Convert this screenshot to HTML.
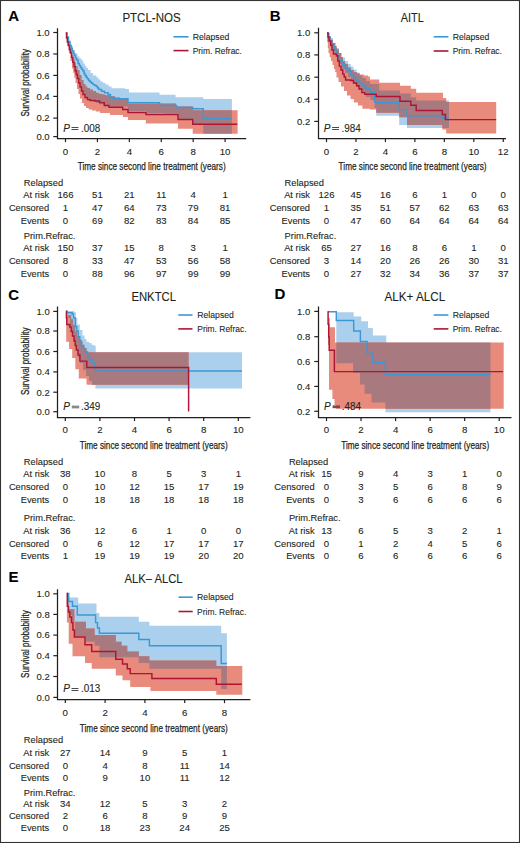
<!DOCTYPE html><html><head><meta charset="utf-8"><style>html,body{margin:0;padding:0;background:#fff;}body{width:520px;height:843px;overflow:hidden;}svg{display:block;}text{font-family:"Liberation Sans",sans-serif;stroke:#231f20;stroke-width:0.1px;}</style></head><body>
<svg width="520" height="843" viewBox="0 0 520 843">
<rect x="0" y="0" width="520" height="843" fill="#fff"/>
<g>
<clipPath id="clipA"><path d="M65.8 33 L67 33 L67 38 L68.2 38 L68.2 42 L69.5 42 L69.5 46.5 L70.8 46.5 L70.8 51 L72 51 L72 55 L73.3 55 L73.3 59 L74.5 59 L74.5 62.5 L75.8 62.5 L75.8 66 L77.5 66 L77.5 70 L79.5 70 L79.5 75 L81.5 75 L81.5 80 L83.5 80 L83.5 84 L85.5 84 L85.5 86.5 L87.3 86.5 L87.3 88 L90 88 L90 89.5 L93 89.5 L93 91 L96 91 L96 92.8 L98.8 92.8 L98.8 93.8 L102 93.8 L102 94.5 L105 94.5 L105 95.2 L110.4 95.2 L110.4 96.3 L115 96.3 L115 97.6 L120 97.6 L120 98.6 L128 98.6 L128 103.4 L176 103.4 L176 106.5 L192.7 106.5 L192.7 110.3 L237.6 110.3 L237.6 133.7 L192.7 133.7 L192.7 128.8 L178 128.8 L178 123.4 L145.8 123.4 L145.8 120 L128 120 L128 117 L123 117 L123 115 L110 115 L110 113 L100 113 L100 111.5 L96 111.5 L96 110.5 L92 110.5 L92 109.5 L88.7 109.5 L88.7 108 L86 108 L86 106 L84 106 L84 103 L82 103 L82 98.5 L80 98.5 L80 94 L78.5 94 L78.5 89 L77 89 L77 83 L75.5 83 L75.5 77.7 L74.3 77.7 L74.3 73 L73.2 73 L73.2 68.5 L72 68.5 L72 61 L70.5 61 L70.5 53.1 L68.9 53.1 L68.9 45 L67.4 45 L67.4 37.7 L66 37.7 L66 33 L65.8 33Z"/></clipPath>
<path d="M65.8 33 L67.5 33 L67.5 38 L69 38 L69 42 L71 42 L71 46 L73 46 L73 50 L75 50 L75 53.5 L77.5 53.5 L77.5 56.5 L79.5 56.5 L79.5 58.5 L81.5 58.5 L81.5 60.5 L83.2 60.5 L83.2 63.5 L85 63.5 L85 66 L86.5 66 L86.5 68 L88 68 L88 70 L90.5 70 L90.5 73 L93 73 L93 75.5 L96.5 75.5 L96.5 77.5 L98.5 77.5 L98.5 79.5 L100.5 79.5 L100.5 81.5 L103 81.5 L103 83 L105.5 83 L105.5 84.5 L108.5 84.5 L108.5 86.5 L111.5 86.5 L111.5 88.2 L125 88.2 L125 89 L129 89 L129 92.6 L159.5 92.6 L159.5 94.7 L175.5 94.7 L175.5 97.2 L203.3 97.2 L203.3 99.1 L231.9 99.1 L231.9 133.7 L203.3 133.7 L203.3 124 L192.7 124 L192.7 119.5 L178 119.5 L178 114.5 L165 114.5 L165 113.5 L146 113.5 L146 111.5 L128 111.5 L128 106.5 L110 106.5 L110 105.5 L104 105.5 L104 104.2 L99.2 104.2 L99.2 103 L96 103 L96 101.5 L92.6 101.5 L92.6 99.8 L89 99.8 L89 97.5 L86.1 97.5 L86.1 94.5 L84 94.5 L84 91 L82.2 91 L82.2 86.5 L80.2 86.5 L80.2 80.5 L78.3 80.5 L78.3 76.5 L77 76.5 L77 71.5 L75.7 71.5 L75.7 66.5 L74.3 66.5 L74.3 61 L73 61 L73 55.5 L71.3 55.5 L71.3 50.5 L69.8 50.5 L69.8 47 L68.7 47 L68.7 43 L67.6 43 L67.6 38 L66.6 38 L66.6 33 L65.8 33Z" fill="#abd0ee"/>
<path d="M65.8 33 L67 33 L67 38 L68.2 38 L68.2 42 L69.5 42 L69.5 46.5 L70.8 46.5 L70.8 51 L72 51 L72 55 L73.3 55 L73.3 59 L74.5 59 L74.5 62.5 L75.8 62.5 L75.8 66 L77.5 66 L77.5 70 L79.5 70 L79.5 75 L81.5 75 L81.5 80 L83.5 80 L83.5 84 L85.5 84 L85.5 86.5 L87.3 86.5 L87.3 88 L90 88 L90 89.5 L93 89.5 L93 91 L96 91 L96 92.8 L98.8 92.8 L98.8 93.8 L102 93.8 L102 94.5 L105 94.5 L105 95.2 L110.4 95.2 L110.4 96.3 L115 96.3 L115 97.6 L120 97.6 L120 98.6 L128 98.6 L128 103.4 L176 103.4 L176 106.5 L192.7 106.5 L192.7 110.3 L237.6 110.3 L237.6 133.7 L192.7 133.7 L192.7 128.8 L178 128.8 L178 123.4 L145.8 123.4 L145.8 120 L128 120 L128 117 L123 117 L123 115 L110 115 L110 113 L100 113 L100 111.5 L96 111.5 L96 110.5 L92 110.5 L92 109.5 L88.7 109.5 L88.7 108 L86 108 L86 106 L84 106 L84 103 L82 103 L82 98.5 L80 98.5 L80 94 L78.5 94 L78.5 89 L77 89 L77 83 L75.5 83 L75.5 77.7 L74.3 77.7 L74.3 73 L73.2 73 L73.2 68.5 L72 68.5 L72 61 L70.5 61 L70.5 53.1 L68.9 53.1 L68.9 45 L67.4 45 L67.4 37.7 L66 37.7 L66 33 L65.8 33Z" fill="#e88a7c"/>
<path d="M65.8 33 L67.5 33 L67.5 38 L69 38 L69 42 L71 42 L71 46 L73 46 L73 50 L75 50 L75 53.5 L77.5 53.5 L77.5 56.5 L79.5 56.5 L79.5 58.5 L81.5 58.5 L81.5 60.5 L83.2 60.5 L83.2 63.5 L85 63.5 L85 66 L86.5 66 L86.5 68 L88 68 L88 70 L90.5 70 L90.5 73 L93 73 L93 75.5 L96.5 75.5 L96.5 77.5 L98.5 77.5 L98.5 79.5 L100.5 79.5 L100.5 81.5 L103 81.5 L103 83 L105.5 83 L105.5 84.5 L108.5 84.5 L108.5 86.5 L111.5 86.5 L111.5 88.2 L125 88.2 L125 89 L129 89 L129 92.6 L159.5 92.6 L159.5 94.7 L175.5 94.7 L175.5 97.2 L203.3 97.2 L203.3 99.1 L231.9 99.1 L231.9 133.7 L203.3 133.7 L203.3 124 L192.7 124 L192.7 119.5 L178 119.5 L178 114.5 L165 114.5 L165 113.5 L146 113.5 L146 111.5 L128 111.5 L128 106.5 L110 106.5 L110 105.5 L104 105.5 L104 104.2 L99.2 104.2 L99.2 103 L96 103 L96 101.5 L92.6 101.5 L92.6 99.8 L89 99.8 L89 97.5 L86.1 97.5 L86.1 94.5 L84 94.5 L84 91 L82.2 91 L82.2 86.5 L80.2 86.5 L80.2 80.5 L78.3 80.5 L78.3 76.5 L77 76.5 L77 71.5 L75.7 71.5 L75.7 66.5 L74.3 66.5 L74.3 61 L73 61 L73 55.5 L71.3 55.5 L71.3 50.5 L69.8 50.5 L69.8 47 L68.7 47 L68.7 43 L67.6 43 L67.6 38 L66.6 38 L66.6 33 L65.8 33Z" fill="#a87a80" clip-path="url(#clipA)"/>
<path d="M65.8 33H67V37H68.5V41.5H70V45.5H71.2V48.5H72.3V51H73.4V53.5H74.5V55.5H75.5V58H76.5V60H78.1V63.5H79.3V65.5H80.5V67.5H81.6V69H82.7V70.8H84V73.5H85V75.5H86.2V77.3H87.3V78.8H88.6V80.5H90V82H91.5V83.3H93.1V84.6H94.8V85.5H96.5V86.6H97.6V88H98.8V89.4H101.5V91.3H104.4V92.7H108V94.5H110.5V97.5H112.5V98.8H128V102.6H159.5V105.5H176.5V107.4H192.7V108.8H203.3V118.8H231.9" fill="none" stroke="#3b98d4" stroke-width="1.45"/>
<path d="M65.8 33H66.5V38H67.3V42H68.2V45.4H69.3V49.5H70.5V53.1H71.6V57.5H72.8V62.3H74V66.5H75.1V70.8H76.2V74.5H77.4V78.5H78.7V83H80V87H81.5V91H83V94.5H85V97.5H87.5V99.5H90V100.5H95V101H99.6V102.6H104.2V105.4H109V107.2H122.7V109.5H128V112.6H146V114.6H178V119.5H192.7V124.2H237.3" fill="none" stroke="#ad1535" stroke-width="1.45"/>
<path d="M57.5 28.2V138.5H246.2" fill="none" stroke="#231f20" stroke-width="1.25"/>
<path d="M53.3 32.5H57.5" stroke="#231f20" stroke-width="1.2"/>
<text x="49.6" y="35.8" font-size="9.5" text-anchor="end" fill="#231f20">1.0</text>
<path d="M53.3 54H57.5" stroke="#231f20" stroke-width="1.2"/>
<text x="49.6" y="57.3" font-size="9.5" text-anchor="end" fill="#231f20">0.8</text>
<path d="M53.3 75.4H57.5" stroke="#231f20" stroke-width="1.2"/>
<text x="49.6" y="78.7" font-size="9.5" text-anchor="end" fill="#231f20">0.6</text>
<path d="M53.3 96.4H57.5" stroke="#231f20" stroke-width="1.2"/>
<text x="49.6" y="99.7" font-size="9.5" text-anchor="end" fill="#231f20">0.4</text>
<path d="M53.3 118.1H57.5" stroke="#231f20" stroke-width="1.2"/>
<text x="49.6" y="121.4" font-size="9.5" text-anchor="end" fill="#231f20">0.2</text>
<path d="M53.3 136.6H57.5" stroke="#231f20" stroke-width="1.2"/>
<text x="49.6" y="139.9" font-size="9.5" text-anchor="end" fill="#231f20">0.0</text>
<path d="M65.5 138.5V142.1" stroke="#231f20" stroke-width="1.2"/>
<text x="65.5" y="154.6" font-size="9.7" text-anchor="middle" fill="#231f20">0</text>
<path d="M97.42 138.5V142.1" stroke="#231f20" stroke-width="1.2"/>
<text x="97.42" y="154.6" font-size="9.7" text-anchor="middle" fill="#231f20">2</text>
<path d="M129.34 138.5V142.1" stroke="#231f20" stroke-width="1.2"/>
<text x="129.34" y="154.6" font-size="9.7" text-anchor="middle" fill="#231f20">4</text>
<path d="M161.26 138.5V142.1" stroke="#231f20" stroke-width="1.2"/>
<text x="161.26" y="154.6" font-size="9.7" text-anchor="middle" fill="#231f20">6</text>
<path d="M193.18 138.5V142.1" stroke="#231f20" stroke-width="1.2"/>
<text x="193.18" y="154.6" font-size="9.7" text-anchor="middle" fill="#231f20">8</text>
<path d="M225.1 138.5V142.1" stroke="#231f20" stroke-width="1.2"/>
<text x="225.1" y="154.6" font-size="9.7" text-anchor="middle" fill="#231f20">10</text>
<text x="151.7" y="170.4" font-size="11.2" text-anchor="middle" textLength="148" lengthAdjust="spacingAndGlyphs" style="stroke-width:0.25px" fill="#231f20">Time since second line treatment (years)</text>
<text transform="translate(28.6 82.8) rotate(-90)" font-size="10.8" text-anchor="middle" textLength="67.6" lengthAdjust="spacingAndGlyphs" style="stroke-width:0.25px" fill="#231f20">Survival probability</text>
<text x="8.3" y="20.8" font-size="15" font-weight="bold" fill="#000">A</text>
<text x="151.5" y="21.8" font-size="12" text-anchor="middle" textLength="58.2" lengthAdjust="spacingAndGlyphs" fill="#231f20">PTCL-NOS</text>
<path d="M173.5 36.8H188.5" stroke="#3b98d4" stroke-width="1.6"/>
<path d="M173.5 50.6H188.5" stroke="#ad1535" stroke-width="1.6"/>
<text x="192.7" y="39.9" font-size="9.7" textLength="36.6" lengthAdjust="spacingAndGlyphs" fill="#231f20">Relapsed</text>
<text x="192.7" y="53.7" font-size="9.7" textLength="49.2" lengthAdjust="spacingAndGlyphs" fill="#231f20">Prim. Refrac.</text>
<text x="63.2" y="131.6" font-size="10" font-style="italic" fill="#231f20">P</text>
<path d="M71.5 127.5H78.4M71.5 129.5H78.4" stroke="#4a4a4a" stroke-width="1"/>
<text x="80.9" y="131.6" font-size="10.1" textLength="19.3" lengthAdjust="spacingAndGlyphs" fill="#231f20">.008</text>
<g font-size="9.3" fill="#231f20">
<text x="23.8" y="186.1" font-size="9.3" fill="#231f20">Relapsed</text>
<text x="23.8" y="238.8" font-size="9.3" fill="#231f20">Prim.Refrac.</text>
<text x="49.2" y="198.4" font-size="9.3" text-anchor="end" fill="#231f20">At risk</text>
<text x="65.5" y="198.4" font-size="9.6" text-anchor="middle" fill="#231f20">166</text>
<text x="97.42" y="198.4" font-size="9.6" text-anchor="middle" fill="#231f20">51</text>
<text x="129.34" y="198.4" font-size="9.6" text-anchor="middle" fill="#231f20">21</text>
<text x="161.26" y="198.4" font-size="9.6" text-anchor="middle" fill="#231f20">11</text>
<text x="193.18" y="198.4" font-size="9.6" text-anchor="middle" fill="#231f20">4</text>
<text x="225.1" y="198.4" font-size="9.6" text-anchor="middle" fill="#231f20">1</text>
<text x="49.2" y="211.2" font-size="9.3" text-anchor="end" fill="#231f20">Censored</text>
<text x="65.5" y="211.2" font-size="9.6" text-anchor="middle" fill="#231f20">1</text>
<text x="97.42" y="211.2" font-size="9.6" text-anchor="middle" fill="#231f20">47</text>
<text x="129.34" y="211.2" font-size="9.6" text-anchor="middle" fill="#231f20">64</text>
<text x="161.26" y="211.2" font-size="9.6" text-anchor="middle" fill="#231f20">73</text>
<text x="193.18" y="211.2" font-size="9.6" text-anchor="middle" fill="#231f20">79</text>
<text x="225.1" y="211.2" font-size="9.6" text-anchor="middle" fill="#231f20">81</text>
<text x="49.2" y="223.9" font-size="9.3" text-anchor="end" fill="#231f20">Events</text>
<text x="65.5" y="223.9" font-size="9.6" text-anchor="middle" fill="#231f20">0</text>
<text x="97.42" y="223.9" font-size="9.6" text-anchor="middle" fill="#231f20">69</text>
<text x="129.34" y="223.9" font-size="9.6" text-anchor="middle" fill="#231f20">82</text>
<text x="161.26" y="223.9" font-size="9.6" text-anchor="middle" fill="#231f20">83</text>
<text x="193.18" y="223.9" font-size="9.6" text-anchor="middle" fill="#231f20">84</text>
<text x="225.1" y="223.9" font-size="9.6" text-anchor="middle" fill="#231f20">85</text>
<text x="49.2" y="251.2" font-size="9.3" text-anchor="end" fill="#231f20">At risk</text>
<text x="65.5" y="251.2" font-size="9.6" text-anchor="middle" fill="#231f20">150</text>
<text x="97.42" y="251.2" font-size="9.6" text-anchor="middle" fill="#231f20">37</text>
<text x="129.34" y="251.2" font-size="9.6" text-anchor="middle" fill="#231f20">15</text>
<text x="161.26" y="251.2" font-size="9.6" text-anchor="middle" fill="#231f20">8</text>
<text x="193.18" y="251.2" font-size="9.6" text-anchor="middle" fill="#231f20">3</text>
<text x="225.1" y="251.2" font-size="9.6" text-anchor="middle" fill="#231f20">1</text>
<text x="49.2" y="263.8" font-size="9.3" text-anchor="end" fill="#231f20">Censored</text>
<text x="65.5" y="263.8" font-size="9.6" text-anchor="middle" fill="#231f20">8</text>
<text x="97.42" y="263.8" font-size="9.6" text-anchor="middle" fill="#231f20">33</text>
<text x="129.34" y="263.8" font-size="9.6" text-anchor="middle" fill="#231f20">47</text>
<text x="161.26" y="263.8" font-size="9.6" text-anchor="middle" fill="#231f20">53</text>
<text x="193.18" y="263.8" font-size="9.6" text-anchor="middle" fill="#231f20">56</text>
<text x="225.1" y="263.8" font-size="9.6" text-anchor="middle" fill="#231f20">58</text>
<text x="49.2" y="276.5" font-size="9.3" text-anchor="end" fill="#231f20">Events</text>
<text x="65.5" y="276.5" font-size="9.6" text-anchor="middle" fill="#231f20">0</text>
<text x="97.42" y="276.5" font-size="9.6" text-anchor="middle" fill="#231f20">88</text>
<text x="129.34" y="276.5" font-size="9.6" text-anchor="middle" fill="#231f20">96</text>
<text x="161.26" y="276.5" font-size="9.6" text-anchor="middle" fill="#231f20">97</text>
<text x="193.18" y="276.5" font-size="9.6" text-anchor="middle" fill="#231f20">99</text>
<text x="225.1" y="276.5" font-size="9.6" text-anchor="middle" fill="#231f20">99</text>
</g>
</g>
<g>
<clipPath id="clipB"><path d="M327 33 L329 33 L329 36.5 L331 36.5 L331 40 L333 40 L333 43 L335 43 L335 46 L337 46 L337 49.5 L339 49.5 L339 53 L341 53 L341 57 L343 57 L343 61 L345 61 L345 64 L348 64 L348 67.5 L351 67.5 L351 70 L354 70 L354 72 L357 72 L357 73.5 L360 73.5 L360 74.5 L364 74.5 L364 75.5 L368 75.5 L368 76.4 L370 76.4 L370 79.6 L379.2 79.6 L379.2 82.7 L400 82.7 L400 85.8 L410.8 85.8 L410.8 88.8 L416.2 88.8 L416.2 92.7 L443 92.7 L443 98.1 L446.2 98.1 L446.2 101.9 L496.2 101.9 L496.2 133.5 L446.2 133.5 L446.2 129.6 L442.3 129.6 L442.3 125 L407 125 L407 117.3 L399.2 117.3 L399.2 112.7 L376.2 112.7 L376.2 109.6 L370 109.6 L370 108.7 L362.4 108.7 L362.4 105.5 L358 105.5 L358 102.5 L354 102.5 L354 99 L350.5 99 L350.5 95.5 L347 95.5 L347 91 L344 91 L344 86.5 L341 86.5 L341 82 L338.5 82 L338.5 77.5 L336.5 77.5 L336.5 72 L335.2 72 L335.2 69 L334 69 L334 65 L332.5 65 L332.5 61 L331 61 L331 57.3 L329.6 57.3 L329.6 53 L328.5 53 L328.5 48 L327.8 48 L327.8 42 L327.1 42 L327.1 33 L327 33Z"/></clipPath>
<path d="M327 33 L330 33 L330 38 L333 38 L333 43 L336 43 L336 48 L339 48 L339 53 L342 53 L342 57.5 L345 57.5 L345 61 L348 61 L348 64 L350.8 64 L350.8 66.5 L353.5 66.5 L353.5 69.5 L356.6 69.5 L356.6 72.5 L359.5 72.5 L359.5 75.5 L362.4 75.5 L362.4 78 L366 78 L366 81 L370 81 L370 84 L379.2 84 L379.2 90.4 L400 90.4 L400 93.5 L410.8 93.5 L410.8 97.3 L416.2 97.3 L416.2 100.4 L449 100.4 L449 128.1 L407 128.1 L407 125 L399.2 125 L399.2 115.8 L376.2 115.8 L376.2 108 L374.6 108 L374.6 100 L370.4 100 L370.4 97 L366 97 L366 93 L362.4 93 L362.4 90 L359.5 90 L359.5 87 L356.6 87 L356.6 84 L353.5 84 L353.5 80 L350.8 80 L350.8 77 L348 77 L348 73 L345 73 L345 68.5 L342 68.5 L342 64 L339.3 64 L339.3 57 L336 57 L336 50 L333 50 L333 45 L331 45 L331 40 L328.5 40 L328.5 33 L327 33Z" fill="#abd0ee"/>
<path d="M327 33 L329 33 L329 36.5 L331 36.5 L331 40 L333 40 L333 43 L335 43 L335 46 L337 46 L337 49.5 L339 49.5 L339 53 L341 53 L341 57 L343 57 L343 61 L345 61 L345 64 L348 64 L348 67.5 L351 67.5 L351 70 L354 70 L354 72 L357 72 L357 73.5 L360 73.5 L360 74.5 L364 74.5 L364 75.5 L368 75.5 L368 76.4 L370 76.4 L370 79.6 L379.2 79.6 L379.2 82.7 L400 82.7 L400 85.8 L410.8 85.8 L410.8 88.8 L416.2 88.8 L416.2 92.7 L443 92.7 L443 98.1 L446.2 98.1 L446.2 101.9 L496.2 101.9 L496.2 133.5 L446.2 133.5 L446.2 129.6 L442.3 129.6 L442.3 125 L407 125 L407 117.3 L399.2 117.3 L399.2 112.7 L376.2 112.7 L376.2 109.6 L370 109.6 L370 108.7 L362.4 108.7 L362.4 105.5 L358 105.5 L358 102.5 L354 102.5 L354 99 L350.5 99 L350.5 95.5 L347 95.5 L347 91 L344 91 L344 86.5 L341 86.5 L341 82 L338.5 82 L338.5 77.5 L336.5 77.5 L336.5 72 L335.2 72 L335.2 69 L334 69 L334 65 L332.5 65 L332.5 61 L331 61 L331 57.3 L329.6 57.3 L329.6 53 L328.5 53 L328.5 48 L327.8 48 L327.8 42 L327.1 42 L327.1 33 L327 33Z" fill="#e88a7c"/>
<path d="M327 33 L330 33 L330 38 L333 38 L333 43 L336 43 L336 48 L339 48 L339 53 L342 53 L342 57.5 L345 57.5 L345 61 L348 61 L348 64 L350.8 64 L350.8 66.5 L353.5 66.5 L353.5 69.5 L356.6 69.5 L356.6 72.5 L359.5 72.5 L359.5 75.5 L362.4 75.5 L362.4 78 L366 78 L366 81 L370 81 L370 84 L379.2 84 L379.2 90.4 L400 90.4 L400 93.5 L410.8 93.5 L410.8 97.3 L416.2 97.3 L416.2 100.4 L449 100.4 L449 128.1 L407 128.1 L407 125 L399.2 125 L399.2 115.8 L376.2 115.8 L376.2 108 L374.6 108 L374.6 100 L370.4 100 L370.4 97 L366 97 L366 93 L362.4 93 L362.4 90 L359.5 90 L359.5 87 L356.6 87 L356.6 84 L353.5 84 L353.5 80 L350.8 80 L350.8 77 L348 77 L348 73 L345 73 L345 68.5 L342 68.5 L342 64 L339.3 64 L339.3 57 L336 57 L336 50 L333 50 L333 45 L331 45 L331 40 L328.5 40 L328.5 33 L327 33Z" fill="#a87a80" clip-path="url(#clipB)"/>
<path d="M327 33H328.5V37H330V40.5H331.5V43.5H333V46.5H334.5V50H336V53.5H337.7V57H339.3V60.3H342V64H345V68.4H348V71H350.8V74.1H353.5V77.5H356.6V81H359.5V83.5H362.4V85.7H366V89H370.4V92.6H374.6V101.9H376V102.7H399.2V109.6H406.9V115.8H442.3V118H449" fill="none" stroke="#3b98d4" stroke-width="1.45"/>
<path d="M327 33H328V37H329V41H330.7V45.3H332V50H333.5V54H336.4V55.7H337.8V61H339.3V66.1H341V70H342.8V74.1H344.2V77H345.6V79.9H350.8V80.5H353.5V83H356.6V85.7H359V89H361.8V92.6H364.7V94.3H376.2V96.5H400V101.2H410.8V105.3H416.2V110.4H442.3V114.4H445.4V119.6H496.2" fill="none" stroke="#ad1535" stroke-width="1.45"/>
<path d="M318.5 27.8V138.5H506" fill="none" stroke="#231f20" stroke-width="1.25"/>
<path d="M314.3 32.8H318.5" stroke="#231f20" stroke-width="1.2"/>
<text x="310.3" y="36.1" font-size="9.5" text-anchor="end" fill="#231f20">1.0</text>
<path d="M314.3 54.9H318.5" stroke="#231f20" stroke-width="1.2"/>
<text x="310.3" y="58.2" font-size="9.5" text-anchor="end" fill="#231f20">0.8</text>
<path d="M314.3 77.2H318.5" stroke="#231f20" stroke-width="1.2"/>
<text x="310.3" y="80.5" font-size="9.5" text-anchor="end" fill="#231f20">0.6</text>
<path d="M314.3 99.3H318.5" stroke="#231f20" stroke-width="1.2"/>
<text x="310.3" y="102.6" font-size="9.5" text-anchor="end" fill="#231f20">0.4</text>
<path d="M314.3 121.4H318.5" stroke="#231f20" stroke-width="1.2"/>
<text x="310.3" y="124.7" font-size="9.5" text-anchor="end" fill="#231f20">0.2</text>
<path d="M326.5 138.5V142.1" stroke="#231f20" stroke-width="1.2"/>
<text x="326.5" y="154.6" font-size="9.7" text-anchor="middle" fill="#231f20">0</text>
<path d="M355.96 138.5V142.1" stroke="#231f20" stroke-width="1.2"/>
<text x="355.96" y="154.6" font-size="9.7" text-anchor="middle" fill="#231f20">2</text>
<path d="M385.42 138.5V142.1" stroke="#231f20" stroke-width="1.2"/>
<text x="385.42" y="154.6" font-size="9.7" text-anchor="middle" fill="#231f20">4</text>
<path d="M414.88 138.5V142.1" stroke="#231f20" stroke-width="1.2"/>
<text x="414.88" y="154.6" font-size="9.7" text-anchor="middle" fill="#231f20">6</text>
<path d="M444.34 138.5V142.1" stroke="#231f20" stroke-width="1.2"/>
<text x="444.34" y="154.6" font-size="9.7" text-anchor="middle" fill="#231f20">8</text>
<path d="M473.8 138.5V142.1" stroke="#231f20" stroke-width="1.2"/>
<text x="473.8" y="154.6" font-size="9.7" text-anchor="middle" fill="#231f20">10</text>
<path d="M503.26 138.5V142.1" stroke="#231f20" stroke-width="1.2"/>
<text x="503.26" y="154.6" font-size="9.7" text-anchor="middle" fill="#231f20">12</text>
<text x="412.6" y="170.3" font-size="11.2" text-anchor="middle" textLength="148" lengthAdjust="spacingAndGlyphs" style="stroke-width:0.25px" fill="#231f20">Time since second line treatment (years)</text>
<text x="269.8" y="20.8" font-size="15" font-weight="bold" fill="#000">B</text>
<text x="412.2" y="21.8" font-size="12" text-anchor="middle" textLength="23" lengthAdjust="spacingAndGlyphs" fill="#231f20">AITL</text>
<path d="M433.7 36.8H448.4" stroke="#3b98d4" stroke-width="1.6"/>
<path d="M433.7 51H448.4" stroke="#ad1535" stroke-width="1.6"/>
<text x="452.7" y="39.9" font-size="9.7" textLength="36.6" lengthAdjust="spacingAndGlyphs" fill="#231f20">Relapsed</text>
<text x="452.7" y="54.1" font-size="9.7" textLength="49.2" lengthAdjust="spacingAndGlyphs" fill="#231f20">Prim. Refrac.</text>
<text x="323.8" y="131.6" font-size="10" font-style="italic" fill="#231f20">P</text>
<path d="M332.1 127.5H339M332.1 129.5H339" stroke="#4a4a4a" stroke-width="1"/>
<text x="341.5" y="131.6" font-size="10.1" textLength="19.3" lengthAdjust="spacingAndGlyphs" fill="#231f20">.984</text>
<g font-size="9.3" fill="#231f20">
<text x="284.6" y="186.1" font-size="9.3" fill="#231f20">Relapsed</text>
<text x="284.6" y="238.8" font-size="9.3" fill="#231f20">Prim.Refrac.</text>
<text x="310" y="198.4" font-size="9.3" text-anchor="end" fill="#231f20">At risk</text>
<text x="326.5" y="198.4" font-size="9.6" text-anchor="middle" fill="#231f20">126</text>
<text x="355.96" y="198.4" font-size="9.6" text-anchor="middle" fill="#231f20">45</text>
<text x="385.42" y="198.4" font-size="9.6" text-anchor="middle" fill="#231f20">16</text>
<text x="414.88" y="198.4" font-size="9.6" text-anchor="middle" fill="#231f20">6</text>
<text x="444.34" y="198.4" font-size="9.6" text-anchor="middle" fill="#231f20">1</text>
<text x="473.8" y="198.4" font-size="9.6" text-anchor="middle" fill="#231f20">0</text>
<text x="503.26" y="198.4" font-size="9.6" text-anchor="middle" fill="#231f20">0</text>
<text x="310" y="211.2" font-size="9.3" text-anchor="end" fill="#231f20">Censored</text>
<text x="326.5" y="211.2" font-size="9.6" text-anchor="middle" fill="#231f20">1</text>
<text x="355.96" y="211.2" font-size="9.6" text-anchor="middle" fill="#231f20">35</text>
<text x="385.42" y="211.2" font-size="9.6" text-anchor="middle" fill="#231f20">51</text>
<text x="414.88" y="211.2" font-size="9.6" text-anchor="middle" fill="#231f20">57</text>
<text x="444.34" y="211.2" font-size="9.6" text-anchor="middle" fill="#231f20">62</text>
<text x="473.8" y="211.2" font-size="9.6" text-anchor="middle" fill="#231f20">63</text>
<text x="503.26" y="211.2" font-size="9.6" text-anchor="middle" fill="#231f20">63</text>
<text x="310" y="223.9" font-size="9.3" text-anchor="end" fill="#231f20">Events</text>
<text x="326.5" y="223.9" font-size="9.6" text-anchor="middle" fill="#231f20">0</text>
<text x="355.96" y="223.9" font-size="9.6" text-anchor="middle" fill="#231f20">47</text>
<text x="385.42" y="223.9" font-size="9.6" text-anchor="middle" fill="#231f20">60</text>
<text x="414.88" y="223.9" font-size="9.6" text-anchor="middle" fill="#231f20">64</text>
<text x="444.34" y="223.9" font-size="9.6" text-anchor="middle" fill="#231f20">64</text>
<text x="473.8" y="223.9" font-size="9.6" text-anchor="middle" fill="#231f20">64</text>
<text x="503.26" y="223.9" font-size="9.6" text-anchor="middle" fill="#231f20">64</text>
<text x="310" y="251.2" font-size="9.3" text-anchor="end" fill="#231f20">At risk</text>
<text x="326.5" y="251.2" font-size="9.6" text-anchor="middle" fill="#231f20">65</text>
<text x="355.96" y="251.2" font-size="9.6" text-anchor="middle" fill="#231f20">27</text>
<text x="385.42" y="251.2" font-size="9.6" text-anchor="middle" fill="#231f20">16</text>
<text x="414.88" y="251.2" font-size="9.6" text-anchor="middle" fill="#231f20">8</text>
<text x="444.34" y="251.2" font-size="9.6" text-anchor="middle" fill="#231f20">6</text>
<text x="473.8" y="251.2" font-size="9.6" text-anchor="middle" fill="#231f20">1</text>
<text x="503.26" y="251.2" font-size="9.6" text-anchor="middle" fill="#231f20">0</text>
<text x="310" y="263.8" font-size="9.3" text-anchor="end" fill="#231f20">Censored</text>
<text x="326.5" y="263.8" font-size="9.6" text-anchor="middle" fill="#231f20">3</text>
<text x="355.96" y="263.8" font-size="9.6" text-anchor="middle" fill="#231f20">14</text>
<text x="385.42" y="263.8" font-size="9.6" text-anchor="middle" fill="#231f20">20</text>
<text x="414.88" y="263.8" font-size="9.6" text-anchor="middle" fill="#231f20">26</text>
<text x="444.34" y="263.8" font-size="9.6" text-anchor="middle" fill="#231f20">26</text>
<text x="473.8" y="263.8" font-size="9.6" text-anchor="middle" fill="#231f20">30</text>
<text x="503.26" y="263.8" font-size="9.6" text-anchor="middle" fill="#231f20">31</text>
<text x="310" y="276.5" font-size="9.3" text-anchor="end" fill="#231f20">Events</text>
<text x="326.5" y="276.5" font-size="9.6" text-anchor="middle" fill="#231f20">0</text>
<text x="355.96" y="276.5" font-size="9.6" text-anchor="middle" fill="#231f20">27</text>
<text x="385.42" y="276.5" font-size="9.6" text-anchor="middle" fill="#231f20">32</text>
<text x="414.88" y="276.5" font-size="9.6" text-anchor="middle" fill="#231f20">34</text>
<text x="444.34" y="276.5" font-size="9.6" text-anchor="middle" fill="#231f20">36</text>
<text x="473.8" y="276.5" font-size="9.6" text-anchor="middle" fill="#231f20">37</text>
<text x="503.26" y="276.5" font-size="9.6" text-anchor="middle" fill="#231f20">37</text>
</g>
</g>
<g>
<clipPath id="clipC"><path d="M66.1 311.1 L68 311.1 L68 315 L71.2 315 L71.2 319.3 L73.2 319.3 L73.2 325 L75.3 325 L75.3 331.5 L77.3 331.5 L77.3 336 L79.3 336 L79.3 339.7 L80.8 339.7 L80.8 342 L82.4 342 L82.4 344.8 L84.5 344.8 L84.5 348 L86.5 348 L86.5 350.9 L87.4 350.9 L87.4 352.2 L188.6 352.2 L188.6 384.8 L87.4 384.8 L87.4 384.6 L86.5 384.6 L86.5 378.4 L78.8 378.4 L78.8 369.3 L75.3 369.3 L75.3 358 L72.2 358 L72.2 348.9 L69.1 348.9 L69.1 341.7 L66.2 341.7 L66.2 311.1 L66.1 311.1Z"/></clipPath>
<path d="M66.1 311.1 L74.2 311.1 L74.2 312.1 L75.8 312.1 L75.8 318 L77.3 318 L77.3 324.4 L79.8 324.4 L79.8 330 L82.4 330 L82.4 335.6 L84.5 335.6 L84.5 339 L86.5 339 L86.5 341.7 L89 341.7 L89 343 L91.6 343 L91.6 344.8 L93.5 344.8 L93.5 345.5 L95.7 345.5 L95.7 352.2 L242 352.2 L242 388.6 L95.4 388.6 L95.4 385 L92 385 L92 381 L89 381 L89 376 L86 376 L86 370 L83 370 L83 363 L80 363 L80 357 L78 357 L78 350 L76 350 L76 342 L74 342 L74 334 L72 334 L72 326 L70 326 L70 318 L68 318 L68 311.1 L66.1 311.1Z" fill="#abd0ee"/>
<path d="M66.1 311.1 L68 311.1 L68 315 L71.2 315 L71.2 319.3 L73.2 319.3 L73.2 325 L75.3 325 L75.3 331.5 L77.3 331.5 L77.3 336 L79.3 336 L79.3 339.7 L80.8 339.7 L80.8 342 L82.4 342 L82.4 344.8 L84.5 344.8 L84.5 348 L86.5 348 L86.5 350.9 L87.4 350.9 L87.4 352.2 L188.6 352.2 L188.6 384.8 L87.4 384.8 L87.4 384.6 L86.5 384.6 L86.5 378.4 L78.8 378.4 L78.8 369.3 L75.3 369.3 L75.3 358 L72.2 358 L72.2 348.9 L69.1 348.9 L69.1 341.7 L66.2 341.7 L66.2 311.1 L66.1 311.1Z" fill="#e88a7c"/>
<path d="M66.1 311.1 L74.2 311.1 L74.2 312.1 L75.8 312.1 L75.8 318 L77.3 318 L77.3 324.4 L79.8 324.4 L79.8 330 L82.4 330 L82.4 335.6 L84.5 335.6 L84.5 339 L86.5 339 L86.5 341.7 L89 341.7 L89 343 L91.6 343 L91.6 344.8 L93.5 344.8 L93.5 345.5 L95.7 345.5 L95.7 352.2 L242 352.2 L242 388.6 L95.4 388.6 L95.4 385 L92 385 L92 381 L89 381 L89 376 L86 376 L86 370 L83 370 L83 363 L80 363 L80 357 L78 357 L78 350 L76 350 L76 342 L74 342 L74 334 L72 334 L72 326 L70 326 L70 318 L68 318 L68 311.1 L66.1 311.1Z" fill="#a87a80" clip-path="url(#clipC)"/>
<path d="M66.1 311.2H67V312.8H72.2V314H73.5V318H75.3V326.4H76.8V331H78.3V336.6H79.8V341H81.4V346.8H83.5V349H85.5V351.9H87.5V356H89.6V360H92V363H94.7V365.2H95.5V370.9H242" fill="none" stroke="#3b98d4" stroke-width="1.45"/>
<path d="M66.1 311.2H66.4V318H66.8V324.4H69.7V327H71.2V331.5H72.5V336H74V341H75.2V345.5H76.3V349.9H78V355H79.9V361.1H86.8V367.5H188.6V411.4H188.6" fill="none" stroke="#ad1535" stroke-width="1.45"/>
<path d="M57.5 306.4V417.5H250.4" fill="none" stroke="#231f20" stroke-width="1.25"/>
<path d="M53.3 311.4H57.5" stroke="#231f20" stroke-width="1.2"/>
<text x="49.8" y="314.7" font-size="9.5" text-anchor="end" fill="#231f20">1.0</text>
<path d="M53.3 331H57.5" stroke="#231f20" stroke-width="1.2"/>
<text x="49.8" y="334.3" font-size="9.5" text-anchor="end" fill="#231f20">0.8</text>
<path d="M53.3 351.5H57.5" stroke="#231f20" stroke-width="1.2"/>
<text x="49.8" y="354.8" font-size="9.5" text-anchor="end" fill="#231f20">0.6</text>
<path d="M53.3 371.9H57.5" stroke="#231f20" stroke-width="1.2"/>
<text x="49.8" y="375.2" font-size="9.5" text-anchor="end" fill="#231f20">0.4</text>
<path d="M53.3 392.2H57.5" stroke="#231f20" stroke-width="1.2"/>
<text x="49.8" y="395.5" font-size="9.5" text-anchor="end" fill="#231f20">0.2</text>
<path d="M53.3 411.7H57.5" stroke="#231f20" stroke-width="1.2"/>
<text x="49.8" y="415" font-size="9.5" text-anchor="end" fill="#231f20">0.0</text>
<path d="M65.3 417.5V421.1" stroke="#231f20" stroke-width="1.2"/>
<text x="65.3" y="433.3" font-size="9.7" text-anchor="middle" fill="#231f20">0</text>
<path d="M99.9 417.5V421.1" stroke="#231f20" stroke-width="1.2"/>
<text x="99.9" y="433.3" font-size="9.7" text-anchor="middle" fill="#231f20">2</text>
<path d="M134.5 417.5V421.1" stroke="#231f20" stroke-width="1.2"/>
<text x="134.5" y="433.3" font-size="9.7" text-anchor="middle" fill="#231f20">4</text>
<path d="M169.1 417.5V421.1" stroke="#231f20" stroke-width="1.2"/>
<text x="169.1" y="433.3" font-size="9.7" text-anchor="middle" fill="#231f20">6</text>
<path d="M203.7 417.5V421.1" stroke="#231f20" stroke-width="1.2"/>
<text x="203.7" y="433.3" font-size="9.7" text-anchor="middle" fill="#231f20">8</text>
<path d="M238.3 417.5V421.1" stroke="#231f20" stroke-width="1.2"/>
<text x="238.3" y="433.3" font-size="9.7" text-anchor="middle" fill="#231f20">10</text>
<text x="153.7" y="449.4" font-size="11.2" text-anchor="middle" textLength="148" lengthAdjust="spacingAndGlyphs" style="stroke-width:0.25px" fill="#231f20">Time since second line treatment (years)</text>
<text transform="translate(28.6 361.3) rotate(-90)" font-size="10.8" text-anchor="middle" textLength="67.6" lengthAdjust="spacingAndGlyphs" style="stroke-width:0.25px" fill="#231f20">Survival probability</text>
<text x="8.3" y="300.1" font-size="15" font-weight="bold" fill="#000">C</text>
<text x="153.7" y="300.5" font-size="12" text-anchor="middle" textLength="44.6" lengthAdjust="spacingAndGlyphs" fill="#231f20">ENKTCL</text>
<path d="M178.3 315H192.5" stroke="#3b98d4" stroke-width="1.6"/>
<path d="M178.3 328.9H192.5" stroke="#ad1535" stroke-width="1.6"/>
<text x="197.3" y="318.1" font-size="9.7" textLength="36.6" lengthAdjust="spacingAndGlyphs" fill="#231f20">Relapsed</text>
<text x="197.3" y="332" font-size="9.7" textLength="49.2" lengthAdjust="spacingAndGlyphs" fill="#231f20">Prim. Refrac.</text>
<text x="63.2" y="410" font-size="10" font-style="italic" fill="#231f20">P</text>
<rect x="71.8" y="405.6" width="7.4" height="2.8" fill="#8a8a8a"/>
<text x="80.9" y="410" font-size="10.1" textLength="19.3" lengthAdjust="spacingAndGlyphs" fill="#231f20">.349</text>
<g font-size="9.3" fill="#231f20">
<text x="23.8" y="464.6" font-size="9.3" fill="#231f20">Relapsed</text>
<text x="23.8" y="521.2" font-size="9.3" fill="#231f20">Prim.Refrac.</text>
<text x="49.2" y="477.2" font-size="9.3" text-anchor="end" fill="#231f20">At risk</text>
<text x="65.3" y="477.2" font-size="9.6" text-anchor="middle" fill="#231f20">38</text>
<text x="99.9" y="477.2" font-size="9.6" text-anchor="middle" fill="#231f20">10</text>
<text x="134.5" y="477.2" font-size="9.6" text-anchor="middle" fill="#231f20">8</text>
<text x="169.1" y="477.2" font-size="9.6" text-anchor="middle" fill="#231f20">5</text>
<text x="203.7" y="477.2" font-size="9.6" text-anchor="middle" fill="#231f20">3</text>
<text x="238.3" y="477.2" font-size="9.6" text-anchor="middle" fill="#231f20">1</text>
<text x="49.2" y="490" font-size="9.3" text-anchor="end" fill="#231f20">Censored</text>
<text x="65.3" y="490" font-size="9.6" text-anchor="middle" fill="#231f20">0</text>
<text x="99.9" y="490" font-size="9.6" text-anchor="middle" fill="#231f20">10</text>
<text x="134.5" y="490" font-size="9.6" text-anchor="middle" fill="#231f20">12</text>
<text x="169.1" y="490" font-size="9.6" text-anchor="middle" fill="#231f20">15</text>
<text x="203.7" y="490" font-size="9.6" text-anchor="middle" fill="#231f20">17</text>
<text x="238.3" y="490" font-size="9.6" text-anchor="middle" fill="#231f20">19</text>
<text x="49.2" y="502.6" font-size="9.3" text-anchor="end" fill="#231f20">Events</text>
<text x="65.3" y="502.6" font-size="9.6" text-anchor="middle" fill="#231f20">0</text>
<text x="99.9" y="502.6" font-size="9.6" text-anchor="middle" fill="#231f20">18</text>
<text x="134.5" y="502.6" font-size="9.6" text-anchor="middle" fill="#231f20">18</text>
<text x="169.1" y="502.6" font-size="9.6" text-anchor="middle" fill="#231f20">18</text>
<text x="203.7" y="502.6" font-size="9.6" text-anchor="middle" fill="#231f20">18</text>
<text x="238.3" y="502.6" font-size="9.6" text-anchor="middle" fill="#231f20">18</text>
<text x="49.2" y="533.9" font-size="9.3" text-anchor="end" fill="#231f20">At risk</text>
<text x="65.3" y="533.9" font-size="9.6" text-anchor="middle" fill="#231f20">36</text>
<text x="99.9" y="533.9" font-size="9.6" text-anchor="middle" fill="#231f20">12</text>
<text x="134.5" y="533.9" font-size="9.6" text-anchor="middle" fill="#231f20">6</text>
<text x="169.1" y="533.9" font-size="9.6" text-anchor="middle" fill="#231f20">1</text>
<text x="203.7" y="533.9" font-size="9.6" text-anchor="middle" fill="#231f20">0</text>
<text x="238.3" y="533.9" font-size="9.6" text-anchor="middle" fill="#231f20">0</text>
<text x="49.2" y="546.5" font-size="9.3" text-anchor="end" fill="#231f20">Censored</text>
<text x="65.3" y="546.5" font-size="9.6" text-anchor="middle" fill="#231f20">0</text>
<text x="99.9" y="546.5" font-size="9.6" text-anchor="middle" fill="#231f20">6</text>
<text x="134.5" y="546.5" font-size="9.6" text-anchor="middle" fill="#231f20">12</text>
<text x="169.1" y="546.5" font-size="9.6" text-anchor="middle" fill="#231f20">17</text>
<text x="203.7" y="546.5" font-size="9.6" text-anchor="middle" fill="#231f20">17</text>
<text x="238.3" y="546.5" font-size="9.6" text-anchor="middle" fill="#231f20">17</text>
<text x="49.2" y="559.2" font-size="9.3" text-anchor="end" fill="#231f20">Events</text>
<text x="65.3" y="559.2" font-size="9.6" text-anchor="middle" fill="#231f20">1</text>
<text x="99.9" y="559.2" font-size="9.6" text-anchor="middle" fill="#231f20">19</text>
<text x="134.5" y="559.2" font-size="9.6" text-anchor="middle" fill="#231f20">19</text>
<text x="169.1" y="559.2" font-size="9.6" text-anchor="middle" fill="#231f20">19</text>
<text x="203.7" y="559.2" font-size="9.6" text-anchor="middle" fill="#231f20">20</text>
<text x="238.3" y="559.2" font-size="9.6" text-anchor="middle" fill="#231f20">20</text>
</g>
</g>
<g>
<clipPath id="clipD"><path d="M327.7 311.7 L328.1 311.7 L328.1 318 L329.8 318 L329.8 327.2 L335 327.2 L335 342.4 L503.7 342.4 L503.7 408.8 L336 408.8 L336 405 L334.5 405 L334.5 398.9 L332.4 398.9 L332.4 389.7 L329 389.7 L329 345 L328.1 345 L328.1 311.7 L327.7 311.7Z"/></clipPath>
<path d="M327.7 311.7 L336.3 311.7 L336.3 312.3 L353.7 312.3 L353.7 316.5 L361.3 316.5 L361.3 321.3 L368 321.3 L368 328 L372.9 328 L372.9 335.4 L386.3 335.4 L386.3 342.5 L490.5 342.5 L490.5 412.3 L385.4 412.3 L385.4 402.5 L371.5 402.5 L371.5 393.8 L364.6 393.8 L364.6 384.6 L360 384.6 L360 373 L353 373 L353 363.3 L336.3 363.3 L336.3 311.7 L327.7 311.7Z" fill="#abd0ee"/>
<path d="M327.7 311.7 L328.1 311.7 L328.1 318 L329.8 318 L329.8 327.2 L335 327.2 L335 342.4 L503.7 342.4 L503.7 408.8 L336 408.8 L336 405 L334.5 405 L334.5 398.9 L332.4 398.9 L332.4 389.7 L329 389.7 L329 345 L328.1 345 L328.1 311.7 L327.7 311.7Z" fill="#e88a7c"/>
<path d="M327.7 311.7 L336.3 311.7 L336.3 312.3 L353.7 312.3 L353.7 316.5 L361.3 316.5 L361.3 321.3 L368 321.3 L368 328 L372.9 328 L372.9 335.4 L386.3 335.4 L386.3 342.5 L490.5 342.5 L490.5 412.3 L385.4 412.3 L385.4 402.5 L371.5 402.5 L371.5 393.8 L364.6 393.8 L364.6 384.6 L360 384.6 L360 373 L353 373 L353 363.3 L336.3 363.3 L336.3 311.7 L327.7 311.7Z" fill="#a87a80" clip-path="url(#clipD)"/>
<path d="M327.7 311.7H336.3V320.4H353.7V331H360.4V341.5H367.1V353.1H372.9V362.7H385.4V374.8H490.5" fill="none" stroke="#3b98d4" stroke-width="1.45"/>
<path d="M327.7 311.7H328.1V324.2H328.7V337H329.2V350.2H334.4V371.6H503" fill="none" stroke="#ad1535" stroke-width="1.45"/>
<path d="M318.5 306.4V417.5H511.5" fill="none" stroke="#231f20" stroke-width="1.25"/>
<path d="M314.3 311.4H318.5" stroke="#231f20" stroke-width="1.2"/>
<text x="310.3" y="314.7" font-size="9.5" text-anchor="end" fill="#231f20">1.0</text>
<path d="M314.3 336.7H318.5" stroke="#231f20" stroke-width="1.2"/>
<text x="310.3" y="340" font-size="9.5" text-anchor="end" fill="#231f20">0.8</text>
<path d="M314.3 361.5H318.5" stroke="#231f20" stroke-width="1.2"/>
<text x="310.3" y="364.8" font-size="9.5" text-anchor="end" fill="#231f20">0.6</text>
<path d="M314.3 386.4H318.5" stroke="#231f20" stroke-width="1.2"/>
<text x="310.3" y="389.7" font-size="9.5" text-anchor="end" fill="#231f20">0.4</text>
<path d="M314.3 411.3H318.5" stroke="#231f20" stroke-width="1.2"/>
<text x="310.3" y="414.6" font-size="9.5" text-anchor="end" fill="#231f20">0.2</text>
<path d="M326.5 417.5V421.1" stroke="#231f20" stroke-width="1.2"/>
<text x="326.5" y="433.3" font-size="9.7" text-anchor="middle" fill="#231f20">0</text>
<path d="M361.04 417.5V421.1" stroke="#231f20" stroke-width="1.2"/>
<text x="361.04" y="433.3" font-size="9.7" text-anchor="middle" fill="#231f20">2</text>
<path d="M395.58 417.5V421.1" stroke="#231f20" stroke-width="1.2"/>
<text x="395.58" y="433.3" font-size="9.7" text-anchor="middle" fill="#231f20">4</text>
<path d="M430.12 417.5V421.1" stroke="#231f20" stroke-width="1.2"/>
<text x="430.12" y="433.3" font-size="9.7" text-anchor="middle" fill="#231f20">6</text>
<path d="M464.66 417.5V421.1" stroke="#231f20" stroke-width="1.2"/>
<text x="464.66" y="433.3" font-size="9.7" text-anchor="middle" fill="#231f20">8</text>
<path d="M499.2 417.5V421.1" stroke="#231f20" stroke-width="1.2"/>
<text x="499.2" y="433.3" font-size="9.7" text-anchor="middle" fill="#231f20">10</text>
<text x="415.2" y="449.4" font-size="11.2" text-anchor="middle" textLength="148" lengthAdjust="spacingAndGlyphs" style="stroke-width:0.25px" fill="#231f20">Time since second line treatment (years)</text>
<text x="274.4" y="299.2" font-size="15" font-weight="bold" fill="#000">D</text>
<text x="414.9" y="300.5" font-size="12" text-anchor="middle" textLength="60.6" lengthAdjust="spacingAndGlyphs" fill="#231f20">ALK+ ALCL</text>
<path d="M433.7 315H448.4" stroke="#3b98d4" stroke-width="1.6"/>
<path d="M433.7 328.9H448.4" stroke="#ad1535" stroke-width="1.6"/>
<text x="452.7" y="318.1" font-size="9.7" textLength="36.6" lengthAdjust="spacingAndGlyphs" fill="#231f20">Relapsed</text>
<text x="452.7" y="332" font-size="9.7" textLength="49.2" lengthAdjust="spacingAndGlyphs" fill="#231f20">Prim. Refrac.</text>
<text x="324" y="409.8" font-size="10" font-style="italic" fill="#231f20">P</text>
<rect x="332.6" y="405.4" width="7.4" height="2.8" fill="#7d4850"/>
<text x="341.7" y="409.8" font-size="10.1" textLength="19.3" lengthAdjust="spacingAndGlyphs" fill="#231f20">.484</text>
<g font-size="9.3" fill="#231f20">
<text x="288.9" y="464.6" font-size="9.3" fill="#231f20">Relapsed</text>
<text x="288.9" y="521.2" font-size="9.3" fill="#231f20">Prim.Refrac.</text>
<text x="314.6" y="477.2" font-size="9.3" text-anchor="end" fill="#231f20">At risk</text>
<text x="326.5" y="477.2" font-size="9.6" text-anchor="middle" fill="#231f20">15</text>
<text x="361.04" y="477.2" font-size="9.6" text-anchor="middle" fill="#231f20">9</text>
<text x="395.58" y="477.2" font-size="9.6" text-anchor="middle" fill="#231f20">4</text>
<text x="430.12" y="477.2" font-size="9.6" text-anchor="middle" fill="#231f20">3</text>
<text x="464.66" y="477.2" font-size="9.6" text-anchor="middle" fill="#231f20">1</text>
<text x="499.2" y="477.2" font-size="9.6" text-anchor="middle" fill="#231f20">0</text>
<text x="314.6" y="490" font-size="9.3" text-anchor="end" fill="#231f20">Censored</text>
<text x="326.5" y="490" font-size="9.6" text-anchor="middle" fill="#231f20">0</text>
<text x="361.04" y="490" font-size="9.6" text-anchor="middle" fill="#231f20">3</text>
<text x="395.58" y="490" font-size="9.6" text-anchor="middle" fill="#231f20">5</text>
<text x="430.12" y="490" font-size="9.6" text-anchor="middle" fill="#231f20">6</text>
<text x="464.66" y="490" font-size="9.6" text-anchor="middle" fill="#231f20">8</text>
<text x="499.2" y="490" font-size="9.6" text-anchor="middle" fill="#231f20">9</text>
<text x="314.6" y="502.6" font-size="9.3" text-anchor="end" fill="#231f20">Events</text>
<text x="326.5" y="502.6" font-size="9.6" text-anchor="middle" fill="#231f20">0</text>
<text x="361.04" y="502.6" font-size="9.6" text-anchor="middle" fill="#231f20">3</text>
<text x="395.58" y="502.6" font-size="9.6" text-anchor="middle" fill="#231f20">6</text>
<text x="430.12" y="502.6" font-size="9.6" text-anchor="middle" fill="#231f20">6</text>
<text x="464.66" y="502.6" font-size="9.6" text-anchor="middle" fill="#231f20">6</text>
<text x="499.2" y="502.6" font-size="9.6" text-anchor="middle" fill="#231f20">6</text>
<text x="314.6" y="533.9" font-size="9.3" text-anchor="end" fill="#231f20">At risk</text>
<text x="326.5" y="533.9" font-size="9.6" text-anchor="middle" fill="#231f20">13</text>
<text x="361.04" y="533.9" font-size="9.6" text-anchor="middle" fill="#231f20">6</text>
<text x="395.58" y="533.9" font-size="9.6" text-anchor="middle" fill="#231f20">5</text>
<text x="430.12" y="533.9" font-size="9.6" text-anchor="middle" fill="#231f20">3</text>
<text x="464.66" y="533.9" font-size="9.6" text-anchor="middle" fill="#231f20">2</text>
<text x="499.2" y="533.9" font-size="9.6" text-anchor="middle" fill="#231f20">1</text>
<text x="314.6" y="546.5" font-size="9.3" text-anchor="end" fill="#231f20">Censored</text>
<text x="326.5" y="546.5" font-size="9.6" text-anchor="middle" fill="#231f20">0</text>
<text x="361.04" y="546.5" font-size="9.6" text-anchor="middle" fill="#231f20">1</text>
<text x="395.58" y="546.5" font-size="9.6" text-anchor="middle" fill="#231f20">2</text>
<text x="430.12" y="546.5" font-size="9.6" text-anchor="middle" fill="#231f20">4</text>
<text x="464.66" y="546.5" font-size="9.6" text-anchor="middle" fill="#231f20">5</text>
<text x="499.2" y="546.5" font-size="9.6" text-anchor="middle" fill="#231f20">6</text>
<text x="314.6" y="559.2" font-size="9.3" text-anchor="end" fill="#231f20">Events</text>
<text x="326.5" y="559.2" font-size="9.6" text-anchor="middle" fill="#231f20">0</text>
<text x="361.04" y="559.2" font-size="9.6" text-anchor="middle" fill="#231f20">6</text>
<text x="395.58" y="559.2" font-size="9.6" text-anchor="middle" fill="#231f20">6</text>
<text x="430.12" y="559.2" font-size="9.6" text-anchor="middle" fill="#231f20">6</text>
<text x="464.66" y="559.2" font-size="9.6" text-anchor="middle" fill="#231f20">6</text>
<text x="499.2" y="559.2" font-size="9.6" text-anchor="middle" fill="#231f20">6</text>
</g>
</g>
<g>
<clipPath id="clipE"><path d="M66.7 593.4 L68.7 593.4 L68.7 609.2 L74.4 609.2 L74.4 621.7 L86 621.7 L86 628.4 L94.6 628.4 L94.6 635.1 L115.8 635.1 L115.8 641.8 L121.5 641.8 L121.5 645.7 L127.3 645.7 L127.3 651.5 L138.8 651.5 L138.8 656.3 L149.4 656.3 L149.4 660.6 L216.3 660.6 L216.3 665.9 L242.3 665.9 L242.3 694.7 L216.3 694.7 L216.3 690.9 L150.4 690.9 L150.4 687 L130.2 687 L130.2 680.3 L122.5 680.3 L122.5 675.5 L115.8 675.5 L115.8 668.8 L91.7 668.8 L91.7 663 L85 663 L85 656.3 L72.5 656.3 L72.5 643.8 L68.7 643.8 L68.7 622.6 L66.9 622.6 L66.9 593.4 L66.7 593.4Z"/></clipPath>
<path d="M66.7 593.4 L68.7 593.4 L68.7 597.6 L78.3 597.6 L78.3 603.4 L96.5 603.4 L96.5 613 L99.4 613 L99.4 616.8 L138.8 616.8 L138.8 621.7 L149.4 621.7 L149.4 625.7 L221.2 625.7 L221.2 633.2 L226.9 633.2 L226.9 689 L221.2 689 L221.2 668.8 L149.4 668.8 L149.4 663 L138.8 663 L138.8 657.2 L99.4 657.2 L99.4 645.7 L94.6 645.7 L94.6 641.8 L86 641.8 L86 636.1 L75 636.1 L75 621.7 L72 621.7 L72 615 L69 615 L69 605 L67.5 605 L67.5 593.4 L66.7 593.4Z" fill="#abd0ee"/>
<path d="M66.7 593.4 L68.7 593.4 L68.7 609.2 L74.4 609.2 L74.4 621.7 L86 621.7 L86 628.4 L94.6 628.4 L94.6 635.1 L115.8 635.1 L115.8 641.8 L121.5 641.8 L121.5 645.7 L127.3 645.7 L127.3 651.5 L138.8 651.5 L138.8 656.3 L149.4 656.3 L149.4 660.6 L216.3 660.6 L216.3 665.9 L242.3 665.9 L242.3 694.7 L216.3 694.7 L216.3 690.9 L150.4 690.9 L150.4 687 L130.2 687 L130.2 680.3 L122.5 680.3 L122.5 675.5 L115.8 675.5 L115.8 668.8 L91.7 668.8 L91.7 663 L85 663 L85 656.3 L72.5 656.3 L72.5 643.8 L68.7 643.8 L68.7 622.6 L66.9 622.6 L66.9 593.4 L66.7 593.4Z" fill="#e88a7c"/>
<path d="M66.7 593.4 L68.7 593.4 L68.7 597.6 L78.3 597.6 L78.3 603.4 L96.5 603.4 L96.5 613 L99.4 613 L99.4 616.8 L138.8 616.8 L138.8 621.7 L149.4 621.7 L149.4 625.7 L221.2 625.7 L221.2 633.2 L226.9 633.2 L226.9 689 L221.2 689 L221.2 668.8 L149.4 668.8 L149.4 663 L138.8 663 L138.8 657.2 L99.4 657.2 L99.4 645.7 L94.6 645.7 L94.6 641.8 L86 641.8 L86 636.1 L75 636.1 L75 621.7 L72 621.7 L72 615 L69 615 L69 605 L67.5 605 L67.5 593.4 L66.7 593.4Z" fill="#a87a80" clip-path="url(#clipE)"/>
<path d="M66.7 593.4H68.7V601.5H72.5V606.3H77.3V614.9H95.6V622.6H97.5V628H99.4V633.2H138.8V639.5H149.4V645.7H221.2V663.4H226.9" fill="none" stroke="#3b98d4" stroke-width="1.45"/>
<path d="M66.7 593.4H67.3V606.3H68.5V612H69.8V617H71.5V622.6H72.9V630H74.4V637H85V644.7H91.7V651.5H115.8V659.2H122.5V664H127.3V668.8H130.2V673.6H151.9V678.4H216.3V684.2H241.9" fill="none" stroke="#ad1535" stroke-width="1.45"/>
<path d="M57.5 589.3V699.5H250.4" fill="none" stroke="#231f20" stroke-width="1.25"/>
<path d="M53.3 593.8H57.5" stroke="#231f20" stroke-width="1.2"/>
<text x="49.8" y="597.1" font-size="9.5" text-anchor="end" fill="#231f20">1.0</text>
<path d="M53.3 614.4H57.5" stroke="#231f20" stroke-width="1.2"/>
<text x="49.8" y="617.7" font-size="9.5" text-anchor="end" fill="#231f20">0.8</text>
<path d="M53.3 635.1H57.5" stroke="#231f20" stroke-width="1.2"/>
<text x="49.8" y="638.4" font-size="9.5" text-anchor="end" fill="#231f20">0.6</text>
<path d="M53.3 655.7H57.5" stroke="#231f20" stroke-width="1.2"/>
<text x="49.8" y="659" font-size="9.5" text-anchor="end" fill="#231f20">0.4</text>
<path d="M53.3 676.5H57.5" stroke="#231f20" stroke-width="1.2"/>
<text x="49.8" y="679.8" font-size="9.5" text-anchor="end" fill="#231f20">0.2</text>
<path d="M53.3 697.4H57.5" stroke="#231f20" stroke-width="1.2"/>
<text x="49.8" y="700.7" font-size="9.5" text-anchor="end" fill="#231f20">0.0</text>
<path d="M65.3 699.5V703.1" stroke="#231f20" stroke-width="1.2"/>
<text x="65.3" y="715.7" font-size="9.7" text-anchor="middle" fill="#231f20">0</text>
<path d="M105.1 699.5V703.1" stroke="#231f20" stroke-width="1.2"/>
<text x="105.1" y="715.7" font-size="9.7" text-anchor="middle" fill="#231f20">2</text>
<path d="M144.9 699.5V703.1" stroke="#231f20" stroke-width="1.2"/>
<text x="144.9" y="715.7" font-size="9.7" text-anchor="middle" fill="#231f20">4</text>
<path d="M184.7 699.5V703.1" stroke="#231f20" stroke-width="1.2"/>
<text x="184.7" y="715.7" font-size="9.7" text-anchor="middle" fill="#231f20">6</text>
<path d="M224.5 699.5V703.1" stroke="#231f20" stroke-width="1.2"/>
<text x="224.5" y="715.7" font-size="9.7" text-anchor="middle" fill="#231f20">8</text>
<text x="153.8" y="731.6" font-size="11.2" text-anchor="middle" textLength="148" lengthAdjust="spacingAndGlyphs" style="stroke-width:0.25px" fill="#231f20">Time since second line treatment (years)</text>
<text transform="translate(28.6 644.1) rotate(-90)" font-size="10.8" text-anchor="middle" textLength="67.6" lengthAdjust="spacingAndGlyphs" style="stroke-width:0.25px" fill="#231f20">Survival probability</text>
<text x="8.6" y="581.9" font-size="15" font-weight="bold" fill="#000">E</text>
<text x="153.5" y="582.6" font-size="12" text-anchor="middle" textLength="58.2" lengthAdjust="spacingAndGlyphs" fill="#231f20">ALK– ALCL</text>
<path d="M178.5 597.2H192.7" stroke="#3b98d4" stroke-width="1.6"/>
<path d="M178.5 611.5H192.7" stroke="#ad1535" stroke-width="1.6"/>
<text x="197.1" y="600.3" font-size="9.7" textLength="36.6" lengthAdjust="spacingAndGlyphs" fill="#231f20">Relapsed</text>
<text x="197.1" y="614.6" font-size="9.7" textLength="49.2" lengthAdjust="spacingAndGlyphs" fill="#231f20">Prim. Refrac.</text>
<text x="63.2" y="692.2" font-size="10" font-style="italic" fill="#231f20">P</text>
<path d="M71.5 688.5H78.4M71.5 690.5H78.4" stroke="#4a4a4a" stroke-width="1"/>
<text x="80.9" y="692.2" font-size="10.1" textLength="19.3" lengthAdjust="spacingAndGlyphs" fill="#231f20">.013</text>
<g font-size="9.3" fill="#231f20">
<text x="23.8" y="743.1" font-size="9.3" fill="#231f20">Relapsed</text>
<text x="23.8" y="795.8" font-size="9.3" fill="#231f20">Prim.Refrac.</text>
<text x="49.2" y="755.7" font-size="9.3" text-anchor="end" fill="#231f20">At risk</text>
<text x="65.3" y="755.7" font-size="9.6" text-anchor="middle" fill="#231f20">27</text>
<text x="105.1" y="755.7" font-size="9.6" text-anchor="middle" fill="#231f20">14</text>
<text x="144.9" y="755.7" font-size="9.6" text-anchor="middle" fill="#231f20">9</text>
<text x="184.7" y="755.7" font-size="9.6" text-anchor="middle" fill="#231f20">5</text>
<text x="224.5" y="755.7" font-size="9.6" text-anchor="middle" fill="#231f20">1</text>
<text x="49.2" y="768.5" font-size="9.3" text-anchor="end" fill="#231f20">Censored</text>
<text x="65.3" y="768.5" font-size="9.6" text-anchor="middle" fill="#231f20">0</text>
<text x="105.1" y="768.5" font-size="9.6" text-anchor="middle" fill="#231f20">4</text>
<text x="144.9" y="768.5" font-size="9.6" text-anchor="middle" fill="#231f20">8</text>
<text x="184.7" y="768.5" font-size="9.6" text-anchor="middle" fill="#231f20">11</text>
<text x="224.5" y="768.5" font-size="9.6" text-anchor="middle" fill="#231f20">14</text>
<text x="49.2" y="781.2" font-size="9.3" text-anchor="end" fill="#231f20">Events</text>
<text x="65.3" y="781.2" font-size="9.6" text-anchor="middle" fill="#231f20">0</text>
<text x="105.1" y="781.2" font-size="9.6" text-anchor="middle" fill="#231f20">9</text>
<text x="144.9" y="781.2" font-size="9.6" text-anchor="middle" fill="#231f20">10</text>
<text x="184.7" y="781.2" font-size="9.6" text-anchor="middle" fill="#231f20">11</text>
<text x="224.5" y="781.2" font-size="9.6" text-anchor="middle" fill="#231f20">12</text>
<text x="49.2" y="806.9" font-size="9.3" text-anchor="end" fill="#231f20">At risk</text>
<text x="65.3" y="806.9" font-size="9.6" text-anchor="middle" fill="#231f20">34</text>
<text x="105.1" y="806.9" font-size="9.6" text-anchor="middle" fill="#231f20">12</text>
<text x="144.9" y="806.9" font-size="9.6" text-anchor="middle" fill="#231f20">5</text>
<text x="184.7" y="806.9" font-size="9.6" text-anchor="middle" fill="#231f20">3</text>
<text x="224.5" y="806.9" font-size="9.6" text-anchor="middle" fill="#231f20">2</text>
<text x="49.2" y="819.3" font-size="9.3" text-anchor="end" fill="#231f20">Censored</text>
<text x="65.3" y="819.3" font-size="9.6" text-anchor="middle" fill="#231f20">2</text>
<text x="105.1" y="819.3" font-size="9.6" text-anchor="middle" fill="#231f20">6</text>
<text x="144.9" y="819.3" font-size="9.6" text-anchor="middle" fill="#231f20">8</text>
<text x="184.7" y="819.3" font-size="9.6" text-anchor="middle" fill="#231f20">9</text>
<text x="224.5" y="819.3" font-size="9.6" text-anchor="middle" fill="#231f20">9</text>
<text x="49.2" y="831.4" font-size="9.3" text-anchor="end" fill="#231f20">Events</text>
<text x="65.3" y="831.4" font-size="9.6" text-anchor="middle" fill="#231f20">0</text>
<text x="105.1" y="831.4" font-size="9.6" text-anchor="middle" fill="#231f20">18</text>
<text x="144.9" y="831.4" font-size="9.6" text-anchor="middle" fill="#231f20">23</text>
<text x="184.7" y="831.4" font-size="9.6" text-anchor="middle" fill="#231f20">24</text>
<text x="224.5" y="831.4" font-size="9.6" text-anchor="middle" fill="#231f20">25</text>
</g>
</g>
<rect x="0.5" y="0.5" width="519" height="842" fill="none" stroke="#333" stroke-width="1.1"/>
</svg></body></html>
